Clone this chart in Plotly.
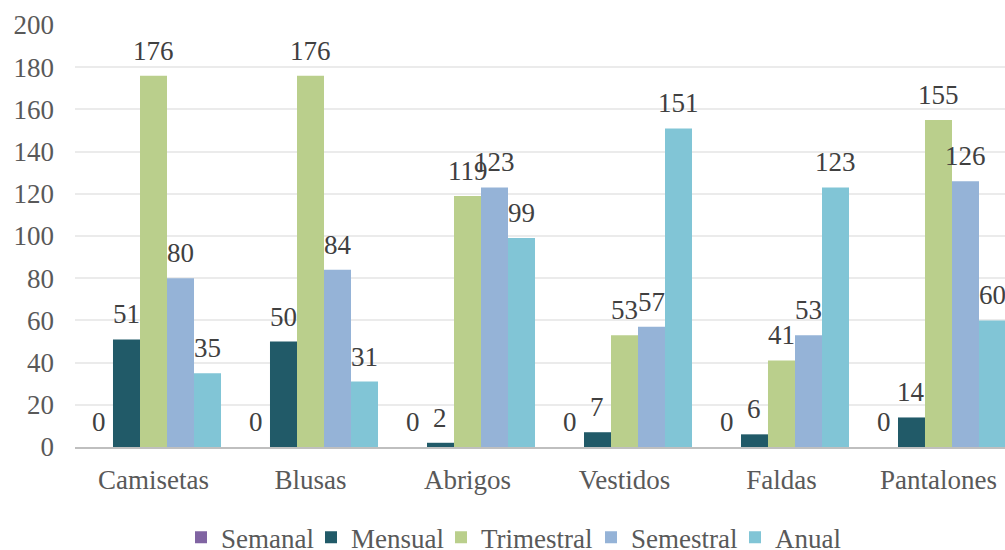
import plotly.graph_objects as go

categories = ["Camisetas", "Blusas", "Abrigos", "Vestidos", "Faldas", "Pantalones"]
semanal = [0, 0, 0, 0, 0, 0]
mensual = [51, 50, 2, 7, 6, 14]
trimestral = [176, 176, 119, 53, 41, 155]
semestral = [80, 84, 123, 57, 53, 126]
anual = [35, 31, 99, 151, 123, 60]

series = [
    ("Semanal", semanal, "#8064a2"),
    ("Mensual", mensual, "#215a68"),
    ("Trimestral", trimestral, "#bacf8c"),
    ("Semestral", semestral, "#95b3d7"),
    ("Anual", anual, "#81c5d6"),
]

FONT = "Liberation Serif"
SIZE = 27

# layout geometry
W, H = 1005, 550
M_L, M_R, M_T, M_B = 75, 0, 25, 103
X_RANGE = [-0.5, 5.4236]
BARGAP = 0.14
plot_w = W - M_L - M_R
px_per_cat = plot_w / (X_RANGE[1] - X_RANGE[0])
bar_px = px_per_cat * (1 - BARGAP) / len(series)

# left edge (px) of each legend entry box
legend_px = [181, 311, 441, 591, 735]

fig = go.Figure()
layout_legends = {}
for i, (name, vals, color) in enumerate(series):
    key = "legend" if i == 0 else f"legend{i + 1}"
    fig.add_trace(go.Bar(
        name=name,
        x=categories,
        y=vals,
        marker=dict(color=color, line=dict(width=0)),
        legend=key,
        showlegend=True,
    ))
    layout_legends[key] = dict(
        orientation="h",
        x=(legend_px[i] - M_L) / plot_w, xanchor="left",
        y=-0.215, yanchor="middle",
        font=dict(family=FONT, size=SIZE, color="#595959"),
        itemwidth=30,
        bgcolor="rgba(0,0,0,0)",
    )
    # value labels above each bar
    for cat, v in zip(categories, vals):
        fig.add_annotation(
            x=cat, y=v, text=str(v),
            xshift=(i - (len(series) - 1) / 2) * bar_px,
            yshift=8,
            yanchor="bottom", xanchor="center",
            showarrow=False,
            font=dict(family=FONT, size=SIZE, color="#404040"),
        )

fig.update_layout(
    width=W,
    height=H,
    showlegend=True,
    margin=dict(l=M_L, r=M_R, t=M_T, b=M_B, autoexpand=False),
    barmode="group",
    bargap=BARGAP,
    bargroupgap=0,
    plot_bgcolor="white",
    paper_bgcolor="white",
    font=dict(family=FONT, size=SIZE, color="#595959"),
    xaxis=dict(
        range=X_RANGE,
        showline=True,
        linecolor="#bfbfbf",
        linewidth=2,
        showgrid=False,
        ticks="",
        ticklabelstandoff=8,
        tickfont=dict(family=FONT, size=SIZE, color="#595959"),
    ),
    yaxis=dict(
        range=[0, 200],
        dtick=20,
        showgrid=True,
        gridcolor="#ebebeb",
        gridwidth=1.5,
        zeroline=False,
        ticks="",
        ticklabelstandoff=20,
        tickfont=dict(family=FONT, size=SIZE, color="#595959"),
    ),
    **layout_legends,
)

fig.write_html("out.html")
